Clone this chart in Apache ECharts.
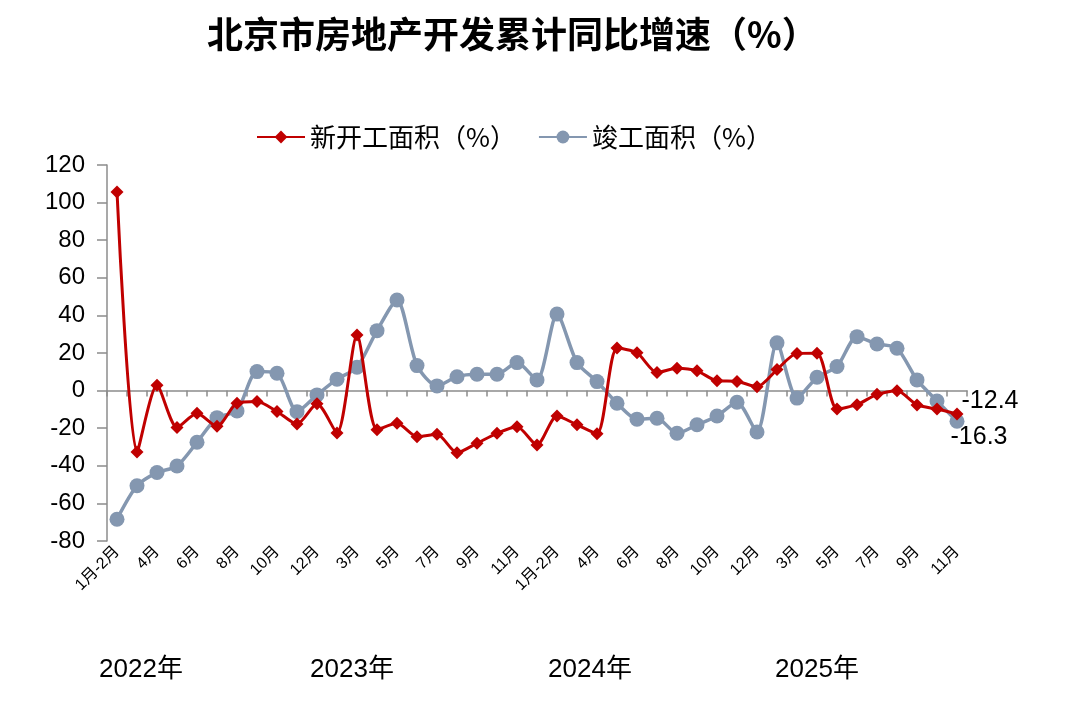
<!DOCTYPE html>
<html>
<head>
<meta charset="utf-8">
<script src="https://cdn.jsdelivr.net/npm/echarts@6/dist/echarts.min.js"></script>
<style>
  html, body { margin: 0; padding: 0; background: #fff; }
  #main { width: 1080px; height: 701px; }
</style>
</head>
<body>
<div id="main"></div>
<script>
// x categories: 2022..2025, monthly cumulative
var categories = [
  '1月-2月','3月','4月','5月','6月','7月','8月','9月','10月','11月','12月',
  '1月-2月','3月','4月','5月','6月','7月','8月','9月','10月','11月','12月',
  '1月-2月','3月','4月','5月','6月','7月','8月','9月','10月','11月','12月',
  '1月-2月','3月','4月','5月','6月','7月','8月','9月','10月','11月'
];
var years = ['2022年', '2023年', '2024年', '2025年'];

// 新开工面积（%）
var newStart = [
  105.7, -32.6, 2.8, -19.6, -12.0, -19.0, -6.7, -5.8, -11.1, -17.8, -7.0,
  -22.5, 29.6, -20.8, -17.4, -24.5, -23.2, -33.0, -28.0, -22.7, -19.2,
  -28.9, -13.5, -18.2, -23.0, 22.6, 20.1, 9.6, 11.9, 10.5, 5.2, 4.9, 2.1,
  11.2, 19.8, 19.9, -9.8, -7.5, -2.0, -0.1, -7.6, -9.8, -12.4
];
// 竣工面积（%）
var completed = [
  -68.4, -50.6, -43.6, -40.1, -27.5, -14.4, -10.8, 10.1, 9.2, -11.2, -2.3,
  6.1, 12.4, 31.9, 48.2, 13.3, 2.5, 7.4, 8.7, 8.7, 14.9,
  5.7, 40.7, 14.9, 4.8, -6.7, -15.2, -14.7, -22.7, -18.2, -13.5, -6.2, -22.0,
  25.4, -4.0, 7.1, 12.8, 28.7, 24.8, 22.5, 5.7, -5.5, -16.3
];

var myChart = echarts.init(document.getElementById('main'));

var font = 'Liberation Sans, Arial, Noto Sans CJK SC, sans-serif';

function lastLabel(data, offset) {
  return data.map(function(v, i) {
    if (i === data.length - 1) {
      return {
        value: v,
        label: { show: true, position: 'right', distance: 2, offset: offset,
                 formatter: '{c}', fontSize: 25, color: '#000', fontFamily: font }
      };
    }
    return v;
  });
}

var option = {
  animation: false,
  backgroundColor: '#fff',
  title: {
    text: '北京市房地产开发累计同比增速（%）',
    left: 202,
    top: 11,
    textStyle: { fontSize: 36, fontWeight: 'bold', color: '#000', fontFamily: 'Noto Sans CJK SC' }
  },
  legend: {
    top: 119,
    left: 251,
    itemWidth: 48,
    itemHeight: 16,
    itemGap: 22,
    textStyle: { fontSize: 26, color: '#000', fontFamily: 'Noto Sans CJK SC' },
    data: ['新开工面积（%）', '竣工面积（%）']
  },
  grid: { left: 107, right: 113, top: 165, bottom: 160 },
  xAxis: [
    {
      type: 'category',
      data: categories,
      position: 'bottom',
      axisLine: { show: false, onZero: false },
      axisTick: { show: false },
      axisLabel: {
        interval: 1, rotate: 45, fontSize: 16, color: '#000', margin: 8,
        fontFamily: font
      }
    },
    {
      type: 'category',
      data: categories,
      position: 'bottom',
      axisLine: { show: true, onZero: true, lineStyle: { color: '#8c8c8c', width: 1.5 } },
      axisTick: { show: true, interval: 0, length: 6, lineStyle: { color: '#8c8c8c', width: 1.5 } },
      axisLabel: { show: false }
    }
  ],
  yAxis: {
    type: 'value',
    min: -80,
    max: 120,
    interval: 20,
    axisLine: { show: true, lineStyle: { color: '#8c8c8c', width: 1.5 } },
    axisTick: { show: true, length: 10, lineStyle: { color: '#8c8c8c', width: 1.5 } },
    splitLine: { show: false },
    axisLabel: { fontSize: 24, color: '#000', margin: 22, fontFamily: font }
  },
  series: [
    {
      name: '新开工面积（%）',
      type: 'line',
      xAxisIndex: 1,
      data: lastLabel(newStart, [-4, -13]),
      smooth: 0.25,
      showAllSymbol: true,
      symbol: 'diamond',
      symbolSize: 13,
      itemStyle: { color: '#C00000' },
      lineStyle: { color: '#C00000', width: 3 },
      z: 3
    },
    {
      name: '竣工面积（%）',
      type: 'line',
      xAxisIndex: 1,
      data: lastLabel(completed, [-16, 16]),
      smooth: 0.25,
      showAllSymbol: true,
      symbol: 'circle',
      symbolSize: 15,
      itemStyle: { color: '#8497B0' },
      lineStyle: { color: '#8497B0', width: 3.5 },
      z: 2
    }
  ],
  graphic: years.map(function(y, k) {
    var xs = [141, 352, 590, 817];
    return {
      type: 'text',
      x: xs[k],
      y: 670,
      style: {
        text: y, fontSize: 26, fill: '#000', fontFamily: font,
        align: 'center', verticalAlign: 'middle'
      }
    };
  })
};

myChart.setOption(option);
</script>
</body>
</html>
